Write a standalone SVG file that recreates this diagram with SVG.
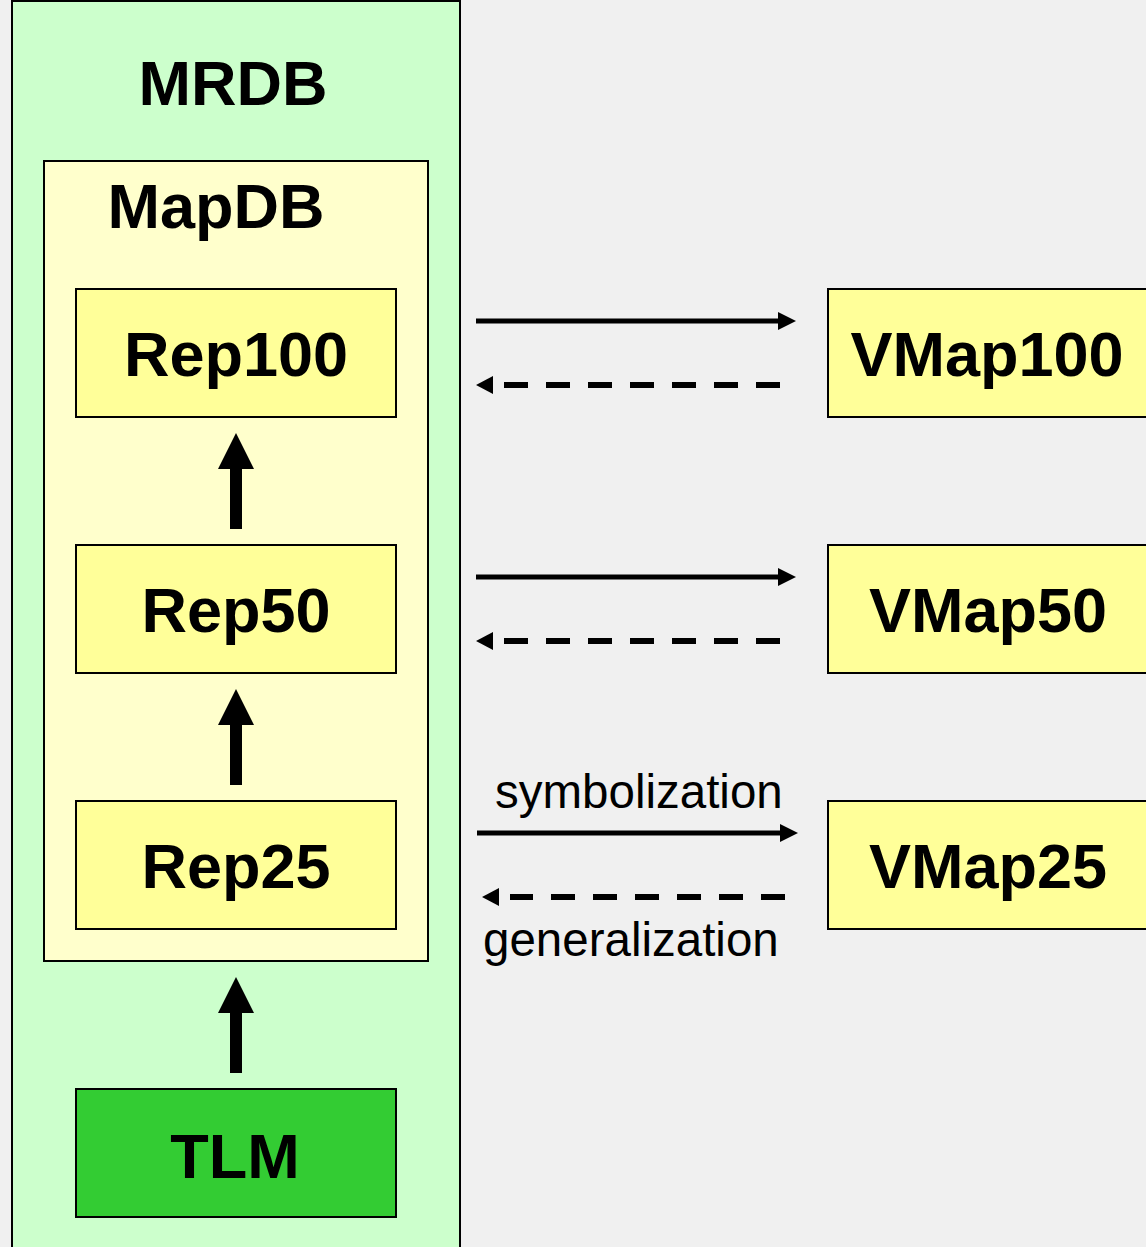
<svg xmlns="http://www.w3.org/2000/svg" width="1146" height="1247" viewBox="0 0 1146 1247">
  <style>
    .box { stroke: #000; stroke-width: 2; }
    .rep { fill: #ffff99; }
    .title { font-family: "Liberation Sans", Arial, sans-serif; font-weight: bold; font-size: 63px; fill: #000; text-anchor: middle; }
    .label { font-family: "Liberation Sans", Arial, sans-serif; font-size: 47.5px; fill: #000; }
    .solid { stroke: #000; stroke-width: 5; fill: none; }
    .dashed { stroke: #000; stroke-width: 6; fill: none; stroke-dasharray: 24 18; }
    .block { fill: #000; }
  </style>
  <defs>
    <marker id="headSolid" markerUnits="userSpaceOnUse" markerWidth="18" markerHeight="18" viewBox="0 0 18 18" refX="0" refY="9" orient="auto" overflow="visible">
      <path d="M0,0 L18,9 L0,18 z" fill="#000"/>
    </marker>
    <marker id="headDashed" markerUnits="userSpaceOnUse" markerWidth="28" markerHeight="18" viewBox="0 0 28 18" refX="0" refY="9" orient="auto" overflow="visible">
      <path d="M11,0 L28,9 L11,18 z" fill="#000"/>
    </marker>
    <path id="upArrow" d="M-6,0 L-6,-60 L-18,-60 L0,-96 L18,-60 L6,-60 L6,0 z"/>
  </defs>

  <rect width="1146" height="1247" fill="#f0f0f0"/>

  <g id="mrdb">
    <rect class="box" x="12" y="1" width="448" height="1262" fill="#ccffcc"/>
    <text class="title" x="233" y="105">MRDB</text>
  </g>

  <g id="mapdb">
    <rect class="box" x="44" y="161" width="384" height="800" fill="#ffffcc"/>
    <text class="title" x="216" y="228">MapDB</text>
  </g>

  <g id="rep100">
    <rect class="box rep" x="76" y="289" width="320" height="128"/>
    <text class="title" x="236" y="376">Rep100</text>
  </g>
  <g id="rep50">
    <rect class="box rep" x="76" y="545" width="320" height="128"/>
    <text class="title" x="236" y="632">Rep50</text>
  </g>
  <g id="rep25">
    <rect class="box rep" x="76" y="801" width="320" height="128"/>
    <text class="title" x="236" y="888">Rep25</text>
  </g>
  <g id="tlm">
    <rect class="box" x="76" y="1089" width="320" height="128" fill="#33cc33"/>
    <text class="title" x="235" y="1178">TLM</text>
  </g>

  <g id="vmap100">
    <rect class="box rep" x="828" y="289" width="320" height="128"/>
    <text class="title" x="987" y="376">VMap100</text>
  </g>
  <g id="vmap50">
    <rect class="box rep" x="828" y="545" width="320" height="128"/>
    <text class="title" x="988" y="632">VMap50</text>
  </g>
  <g id="vmap25">
    <rect class="box rep" x="828" y="801" width="320" height="128"/>
    <text class="title" x="988" y="888">VMap25</text>
  </g>

  <g id="connectors">
    <!-- derivation arrows inside the database -->
    <use href="#upArrow" class="block" x="236" y="529"/>
    <use href="#upArrow" class="block" x="236" y="785"/>
    <use href="#upArrow" class="block" x="236" y="1073"/>

    <!-- symbolization (solid) and generalization (dashed) -->
    <line class="solid" x1="476" y1="321" x2="778" y2="321" marker-end="url(#headSolid)"/>
    <line class="dashed" x1="780" y1="385" x2="504" y2="385" marker-end="url(#headDashed)"/>

    <line class="solid" x1="476" y1="577" x2="778" y2="577" marker-end="url(#headSolid)"/>
    <line class="dashed" x1="780" y1="641" x2="504" y2="641" marker-end="url(#headDashed)"/>

    <line class="solid" x1="477" y1="833" x2="780" y2="833" marker-end="url(#headSolid)"/>
    <line class="dashed" x1="785" y1="897" x2="510" y2="897" marker-end="url(#headDashed)"/>

    <text class="label" x="495" y="808">symbolization</text>
    <text class="label" x="483" y="956">generalization</text>
  </g>
</svg>
